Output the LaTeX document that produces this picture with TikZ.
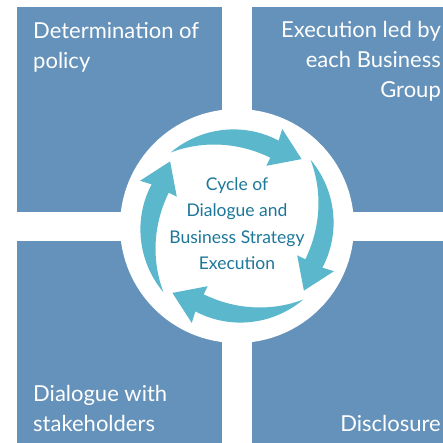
\documentclass[tikz,border=0pt]{standalone}
\usepackage{fontspec}
\setmainfont{Lato}
\definecolor{quadblue}{HTML}{6592BA}
\definecolor{cyclecyan}{HTML}{5AB7CC}
\definecolor{cycleteal}{HTML}{1D779A}

\begin{document}
\begin{tikzpicture}[x=1pt, y=1pt,
    quadrant/.style ={fill=quadblue, inner sep=0pt, minimum width=205pt, minimum height=205pt},
    quadtext/.style ={text=white, inner sep=0pt, font=\fontsize{22}{30}\selectfont},
    cycletext/.style ={text=cycleteal, inner sep=0pt, align=center, font=\fontsize{17.5}{26.5}\selectfont},
    cycle arrow/.pic ={
      \fill[cyclecyan] plot[domain=132:64, samples=30, variable=\t] (\t:{95+4*(\t-64)/68})
        -- (65:107) -- (46:93) -- (64:67) -- (64:76)
        -- plot[domain=64:132, samples=30, variable=\t] (\t:{76+23*((\t-64)/68)^2}) -- cycle;
    }]
   \useasboundingbox (-237,-217) rectangle (205,226);
   % four blue fields
   \node[quadrant, anchor=north west] (policy)     at (-220,219) {};
   \node[quadrant, anchor=north west] (execution)  at (15,219)   {};
   \node[quadrant, anchor=north west] (dialogue)   at (-220,-15) {};
   \node[quadrant, anchor=north west] (disclosure) at (15,-15)   {};
   \node[quadtext, anchor=base west, align=left]  (policytext)     at (-204,157)  {Determination of\\policy};
   \node[quadtext, anchor=base east, align=right] (executiontext)  at (204,128)   {Execution led by\\each Business\\Group};
   \node[quadtext, anchor=base west, align=left]  (dialoguetext)   at (-204,-205) {Dialogue with\\stakeholders};
   \node[quadtext, anchor=base east]              (disclosuretext) at (204,-205)  {Disclosure};
   % white disc with the cycle
   \node[circle, fill=white, minimum size=234pt, inner sep=0pt] (hub) at (0,0) {};
   \pic at (hub.center) {cycle arrow};
   \pic[rotate=-90] at (hub.center) {cycle arrow};
   \pic[rotate=180] at (hub.center) {cycle arrow};
   \pic[rotate=90] at (hub.center) {cycle arrow};
   \node[cycletext, anchor=base] (cycle) at (0,-44) {Cycle of\\Dialogue and\\Business Strategy\\Execution};
\end{tikzpicture}
\end{document}
